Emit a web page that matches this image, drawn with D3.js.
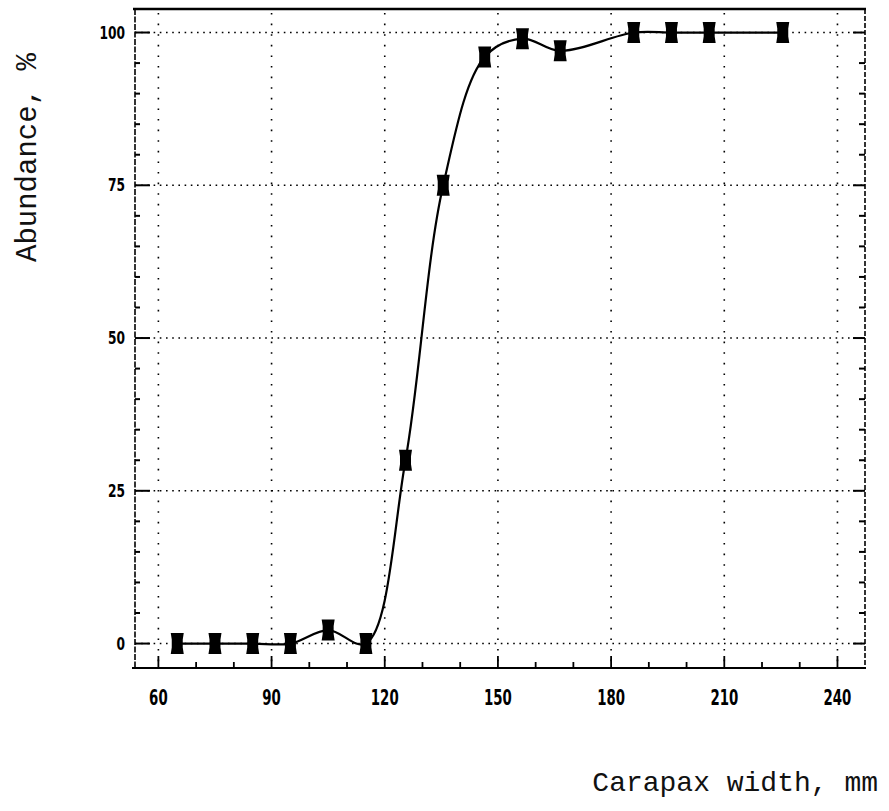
<!DOCTYPE html>
<html>
<head>
<meta charset="utf-8">
<script src="https://cdn.jsdelivr.net/npm/d3@7"></script>
<style>
  html, body { margin: 0; padding: 0; background: #fff; }
  svg { display: block; }
  .tick-lbl { font-family: "Liberation Sans Narrow", "DejaVu Sans Condensed", "Liberation Sans", sans-serif; font-weight: bold; fill: #000; }
  .title { font-family: "Liberation Mono", "DejaVu Sans Mono", monospace; fill: #111; }
</style>
</head>
<body>
<svg id="chart" width="889" height="811"></svg>
<script>
// ---- data ----
const widths     = [65, 75, 85, 95, 105, 115, 125.5, 135.5, 146.5, 156.5, 166.5, 186, 196, 206, 225.5];
const abundance  = [0, 0, 0, 0, 2.2, 0, 30, 75, 96, 99, 97, 100, 100, 100, 100];
const xTicks     = [60, 90, 120, 150, 180, 210, 240];
const yTicks     = [0, 25, 50, 75, 100];
const xTitle     = "Carapax width, mm";
const yTitle     = "Abundance, %";

// ---- layout ----
const L = 135, R = 865, T = 9, B = 668;
const svg = d3.select("#chart");
const x = d3.scaleLinear().domain([53.8, 247.3]).range([L, R]);
const y = d3.scaleLinear().domain([-4.0, 103.85]).range([B, T]);

// grid (dotted)
const g = svg.append("g");
g.selectAll(".hg").data(yTicks).join("line")
  .attr("x1", L).attr("x2", R)
  .attr("y1", d => y(d)).attr("y2", d => y(d))
  .attr("stroke", "#000").attr("stroke-width", 1.6)
  .attr("stroke-dasharray", "1.6,4.6");
g.selectAll(".vg").data(xTicks).join("line")
  .attr("x1", d => x(d)).attr("x2", d => x(d))
  .attr("y1", T + 4).attr("y2", B)
  .attr("stroke", "#000").attr("stroke-width", 1.6)
  .attr("stroke-dasharray", "1.6,9");

// frame
svg.append("line").attr("x1", L - 2).attr("x2", R + 1).attr("y1", T).attr("y2", T)
  .attr("stroke", "#000").attr("stroke-width", 2.6);
svg.append("line").attr("x1", L - 3).attr("x2", R + 1).attr("y1", B).attr("y2", B)
  .attr("stroke", "#000").attr("stroke-width", 2);
svg.append("line").attr("x1", L).attr("x2", L).attr("y1", T).attr("y2", B)
  .attr("stroke", "#000").attr("stroke-width", 1.6).attr("stroke-dasharray", "6,1.5");
svg.append("line").attr("x1", R).attr("x2", R).attr("y1", T).attr("y2", B)
  .attr("stroke", "#000").attr("stroke-width", 1.6).attr("stroke-dasharray", "5,2");

// x ticks (inward/up)
const xMinor = d3.range(60, 241, 10);
svg.selectAll(".xt").data(xMinor).join("line")
  .attr("x1", d => x(d)).attr("x2", d => x(d))
  .attr("y1", B).attr("y2", d => B - (d % 30 === 0 ? 12 : 6))
  .attr("stroke", "#000").attr("stroke-width", 1.8);
// y ticks left and right
const yMinor = d3.range(0, 101, 5);
svg.selectAll(".ytl").data(yMinor).join("line")
  .attr("x1", L).attr("x2", d => L + (d % 25 === 0 ? 15 : 5))
  .attr("y1", d => y(d)).attr("y2", d => y(d))
  .attr("stroke", "#000").attr("stroke-width", 2);
svg.selectAll(".ytr").data(yMinor).join("line")
  .attr("x1", R).attr("x2", d => R - (d % 25 === 0 ? 12 : 6))
  .attr("y1", d => y(d)).attr("y2", d => y(d))
  .attr("stroke", "#000").attr("stroke-width", 2);

// tick labels (condensed look)
svg.selectAll(".xl").data(xTicks).join("text").attr("class", "tick-lbl")
  .attr("transform", d => `translate(${x(d)},705) scale(0.78,1.1)`)
  .attr("text-anchor", "middle")
  .attr("font-size", 19).text(d => d);
svg.selectAll(".yl").data(yTicks).join("text").attr("class", "tick-lbl")
  .attr("transform", d => `translate(125,${y(d) + 6}) scale(0.85,1.05)`)
  .attr("text-anchor", "end")
  .attr("font-size", 16).text(d => d);

// curve
const pts = widths.map((w, i) => [w, abundance[i]]);
svg.append("path").datum(pts)
  .attr("d", d3.line().x(d => x(d[0])).y(d => y(d[1])).curve(d3.curveCatmullRom.alpha(0.5)))
  .attr("fill", "none").attr("stroke", "#000").attr("stroke-width", 2.2);

// markers: bow-tie blocks
const mk = "M-6.5,-10.5 L6.5,-10.5 L5.5,-4 L5.5,4 L6.5,10.5 L-6.5,10.5 L-5.5,4 L-5.5,-4 Z";
svg.selectAll(".mk").data(pts).join("path")
  .attr("transform", d => `translate(${x(d[0])},${y(d[1])})`)
  .attr("d", mk).attr("fill", "#000");

// titles
svg.append("text").attr("class", "title")
  .attr("transform", "translate(36,262) rotate(-90)")
  .attr("font-size", 29).text(yTitle);
svg.append("text").attr("class", "title")
  .attr("x", 878).attr("y", 791).attr("text-anchor", "end")
  .attr("font-size", 28).text(xTitle);
</script>
</body>
</html>
